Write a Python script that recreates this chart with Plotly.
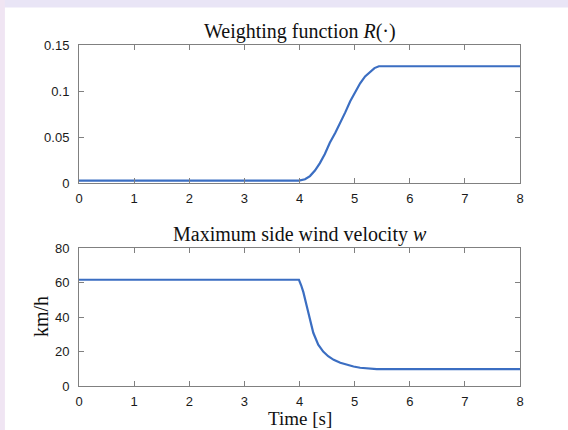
import plotly.graph_objects as go

# ---- data ----
t_R = [0, 3.99, 4.1, 4.19, 4.28, 4.37, 4.46, 4.55, 4.65, 4.74, 4.83, 4.92, 5.01, 5.10, 5.19, 5.28, 5.36, 5.44, 8]
R = [0.003, 0.003, 0.0045, 0.008, 0.014, 0.022, 0.032, 0.044, 0.055, 0.0655, 0.077, 0.089, 0.099, 0.1085, 0.116, 0.1213, 0.125, 0.127, 0.127]

t_w = [0, 3.99, 4.03, 4.07, 4.13, 4.19, 4.25, 4.34, 4.43, 4.52, 4.62, 4.74, 4.86, 4.98, 5.10, 5.25, 5.40, 8]
w = [61.7, 61.7, 58.5, 54.5, 46.6, 38.7, 30.9, 24.0, 20.0, 17.3, 15.2, 13.5, 12.2, 11.3, 10.6, 10.1, 9.8, 9.8]

x_ticks = [0, 1, 2, 3, 4, 5, 6, 7, 8]
R_ticks = [0, 0.05, 0.1, 0.15]
R_ticktext = ["0", "0.05", "0.1", "0.15"]
w_ticks = [0, 20, 40, 60, 80]

title_top = "Weighting function <i>R</i>(·)"
title_bot = "Maximum side wind velocity <i>w</i>"
ylabel_bot = "km/h"
xlabel_bot = "Time [s]"

LINE = "#3B6EC2"
AXC = "#808080"
SERIF = "Liberation Serif, Times New Roman, serif"
SANS = "Liberation Sans, Arial, Helvetica, sans-serif"

fig = go.Figure()
fig.add_trace(go.Scatter(x=t_R, y=R, mode="lines", line=dict(color=LINE, width=2.2),
                         xaxis="x", yaxis="y", showlegend=False))
fig.add_trace(go.Scatter(x=t_w, y=w, mode="lines", line=dict(color=LINE, width=2.2),
                         xaxis="x2", yaxis="y2", showlegend=False))

ax_common = dict(showline=True, linecolor=AXC, linewidth=1, mirror="ticks",
                 ticks="inside", ticklen=5, tickcolor=AXC, tickwidth=1,
                 showgrid=False, zeroline=False,
                 tickfont=dict(family=SANS, size=13, color="#1a1a1a"))

fig.update_layout(
    width=568, height=430,
    margin=dict(l=79, r=48, t=45, b=44),
    paper_bgcolor="white", plot_bgcolor="white",
    xaxis=dict(domain=[0, 1], range=[0, 8], tickvals=x_ticks, anchor="y",
               ticklabelstandoff=3, **ax_common),
    yaxis=dict(domain=[0.594, 1], range=[0, 0.15], tickvals=R_ticks, ticktext=R_ticktext,
               anchor="x", ticklabelstandoff=6, **ax_common),
    xaxis2=dict(domain=[0, 1], range=[0, 8], tickvals=x_ticks, anchor="y2",
                ticklabelstandoff=3, **ax_common),
    yaxis2=dict(domain=[0, 0.404], range=[0, 80], tickvals=w_ticks, anchor="x2",
                ticklabelstandoff=6, **ax_common),
    annotations=[
        dict(text=title_top, xref="paper", yref="paper", x=0.5, y=1, yshift=0,
             xanchor="center", yanchor="bottom", showarrow=False,
             font=dict(family=SERIF, size=20, color="#111")),
        dict(text=title_bot, xref="paper", yref="paper", x=0.5, y=0.404, yshift=0,
             xanchor="center", yanchor="bottom", showarrow=False,
             font=dict(family=SERIF, size=20, color="#111")),
        dict(text=ylabel_bot, xref="paper", yref="paper", x=0, xshift=-38, y=0.202,
             xanchor="center", yanchor="middle", textangle=-90, showarrow=False,
             font=dict(family=SERIF, size=20, color="#111")),
        dict(text=xlabel_bot, xref="paper", yref="paper", x=0.5, y=0, yshift=-20,
             xanchor="center", yanchor="top", showarrow=False,
             font=dict(family=SERIF, size=19, color="#111")),
    ],
    shapes=[
        # lavender frame strips (top and left)
        dict(type="rect", xref="paper", yref="paper", x0=-0.2, x1=1.2, y0=1.11, y1=1.2,
             fillcolor="#E9E5F6", line=dict(width=0), layer="below"),
        dict(type="rect", xref="paper", yref="paper", x0=-0.2, x1=-0.168, y0=-0.2, y1=1.2,
             fillcolor="#F0E5F3", line=dict(width=0), layer="below"),
    ],
)

fig.write_html("out.html", config={"displayModeBar": False},
               post_script="document.body.style.margin='0';document.body.style.overflow='hidden';")
